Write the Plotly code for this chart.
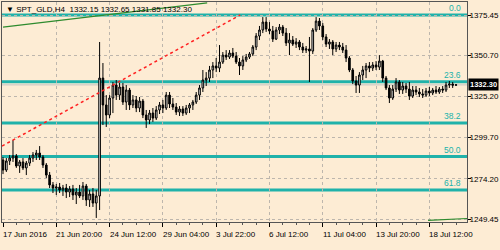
import plotly.graph_objects as go

# ---- data (H4 bars, SPT_GLD) ----
bar_index = list(range(137))
opens = [1285.9,1279.7,1285.3,1287.1,1288.4,1282.2,1284.7,1281.0,1284.0,1287.1,
         1289.0,1290.2,1287.7,1282.8,1276.6,1270.5,1268.6,1269.2,1267.4,1268.6,
         1266.1,1268.0,1264.3,1266.1,1263.7,1269.8,1261.2,1264.9,1259.3,1263.7,
         1336.5,1319.9,1313.7,1324.2,1332.2,1326.0,1331.0,1321.7,1329.1,1319.9,
         1323.0,1318.0,1322.3,1313.7,1310.6,1314.9,1311.8,1316.8,1319.9,1318.0,
         1326.0,1320.5,1318.6,1315.5,1317.4,1314.9,1318.0,1319.9,1321.7,1326.0,
         1330.4,1335.3,1336.5,1341.5,1344.0,1342.7,1346.4,1350.7,1349.5,1352.0,
         1350.1,1346.4,1344.0,1347.7,1349.5,1351.4,1355.7,1362.5,1366.2,1371.1,
         1366.8,1365.6,1360.6,1366.2,1368.0,1364.3,1358.2,1360.0,1357.5,1358.8,
         1355.7,1353.8,1354.5,1353.2,1366.2,1371.7,1368.7,1361.9,1357.5,1358.8,
         1354.5,1356.9,1355.7,1353.8,1348.9,1341.5,1334.7,1332.2,1338.4,1341.5,
         1344.0,1342.7,1344.6,1343.3,1347.0,1336.5,1330.4,1324.2,1329.7,1334.1,
         1329.1,1331.6,1329.7,1325.4,1329.1,1327.9,1326.7,1326.0,1328.5,1327.3,
         1329.1,1327.9,1329.7,1329.1,1332.2,1332.8,1332.15]
highs = [1287.7,1287.1,1289.0,1298.2,1289.6,1285.9,1287.1,1285.3,1289.0,1290.8,
         1292.1,1294.5,1289.0,1284.0,1278.5,1272.3,1271.1,1271.7,1270.5,1271.1,
         1269.8,1270.5,1268.6,1270.5,1272.3,1271.1,1267.4,1268.6,1267.4,1358.8,
         1345.8,1326.0,1326.0,1334.1,1335.3,1333.5,1333.5,1332.2,1330.4,1326.0,
         1325.4,1324.8,1323.6,1316.8,1316.8,1318.0,1319.2,1321.7,1323.0,1327.9,
         1327.9,1324.2,1321.1,1319.2,1319.2,1319.9,1321.1,1323.0,1327.9,1332.2,
         1341.5,1340.2,1344.0,1346.4,1348.9,1356.9,1352.6,1353.8,1353.8,1355.1,
         1352.6,1348.9,1350.1,1351.4,1352.6,1356.9,1364.3,1368.7,1374.2,1374.2,
         1371.1,1368.7,1368.0,1369.9,1369.3,1367.4,1364.3,1362.5,1361.2,1360.0,
         1358.2,1356.3,1361.9,1367.4,1374.2,1373.6,1370.5,1363.7,1360.6,1360.0,
         1358.8,1358.8,1358.2,1356.9,1350.1,1342.7,1337.8,1340.2,1344.0,1345.8,
         1346.4,1346.4,1347.0,1350.7,1347.7,1337.8,1332.2,1332.2,1336.5,1335.3,
         1334.1,1333.5,1334.1,1331.6,1331.6,1330.4,1329.7,1330.4,1331.0,1330.4,
         1331.6,1331.0,1331.6,1334.1,1334.7,1334.1,1332.65]
lows = [1277.2,1278.5,1282.8,1284.7,1281.0,1277.9,1279.7,1276.6,1282.2,1284.7,
        1285.9,1285.9,1281.0,1274.8,1268.6,1265.5,1264.3,1265.5,1263.7,1262.4,
        1263.0,1261.2,1258.7,1262.4,1261.2,1257.5,1256.9,1256.9,1250.1,1255.0,
        1307.5,1306.3,1311.8,1314.9,1323.0,1323.0,1319.9,1316.8,1316.8,1318.0,
        1315.5,1315.5,1311.8,1305.7,1308.1,1309.4,1310.6,1314.3,1314.9,1316.8,
        1318.0,1316.8,1313.7,1313.1,1313.1,1313.7,1314.9,1316.8,1320.5,1323.0,
        1327.9,1331.6,1334.1,1336.5,1340.2,1340.2,1345.2,1347.7,1348.3,1348.9,
        1345.2,1338.4,1341.5,1346.4,1348.3,1350.1,1353.8,1360.0,1364.3,1365.0,
        1363.7,1358.8,1360.0,1363.7,1362.5,1356.3,1350.7,1356.3,1355.1,1353.8,
        1352.0,1352.0,1334.1,1351.4,1365.0,1366.2,1360.0,1355.7,1354.5,1350.7,
        1352.6,1353.8,1352.0,1346.4,1340.2,1332.8,1327.3,1327.3,1335.3,1336.5,
        1340.2,1340.9,1341.5,1341.5,1334.1,1329.1,1321.1,1323.0,1327.9,1326.7,
        1326.7,1327.3,1323.0,1324.2,1326.0,1324.8,1324.2,1324.8,1325.4,1326.0,
        1326.7,1326.7,1327.3,1327.9,1330.4,1330.4,1331.85]
closes = [1279.7,1285.3,1287.1,1288.4,1282.2,1284.7,1281.0,1284.0,1287.1,1289.0,
          1290.2,1287.7,1282.8,1276.6,1270.5,1268.6,1269.2,1267.4,1268.6,1266.1,
          1268.0,1264.3,1266.1,1263.7,1269.8,1261.2,1264.9,1259.3,1263.7,1336.5,
          1319.9,1313.7,1324.2,1332.2,1326.0,1331.0,1321.7,1329.1,1319.9,1323.0,
          1318.0,1322.3,1313.7,1310.6,1314.9,1311.8,1316.8,1319.9,1318.0,1326.0,
          1320.5,1318.6,1315.5,1317.4,1314.9,1318.0,1319.9,1321.7,1326.0,1330.4,
          1335.3,1336.5,1341.5,1344.0,1342.7,1346.4,1350.7,1349.5,1352.0,1350.1,
          1346.4,1344.0,1347.7,1349.5,1351.4,1355.7,1362.5,1366.2,1371.1,1366.8,
          1365.6,1360.6,1366.2,1368.0,1364.3,1358.2,1360.0,1357.5,1358.8,1355.7,
          1353.8,1354.5,1353.2,1366.2,1371.7,1368.7,1361.9,1357.5,1358.8,1354.5,
          1356.9,1355.7,1353.8,1348.9,1341.5,1334.7,1332.2,1338.4,1341.5,1344.0,
          1342.7,1344.6,1343.3,1347.0,1336.5,1330.4,1324.2,1329.7,1334.1,1329.1,
          1331.6,1329.7,1325.4,1329.1,1327.9,1326.7,1326.0,1328.5,1327.3,1329.1,
          1327.9,1329.7,1329.1,1332.2,1332.8,1332.15,1332.30]

x_tick_bars = [0, 16, 32, 48, 64, 80, 96, 112, 128]
x_tick_labels = ["17 Jun 2016", "21 Jun 20:00", "24 Jun 12:00", "29 Jun 04:00",
                 "3 Jul 22:00", "6 Jul 12:00", "11 Jul 04:00", "13 Jul 20:00",
                 "18 Jul 12:00"]
y_tick_values = [1249.45, 1274.20, 1299.70, 1325.20, 1350.70, 1375.45]
y_tick_labels = ["1249.45", "1274.20", "1299.70", "1325.20", "1350.70", "1375.45"]

fib_labels = ["0.0", "23.6", "38.2", "50.0", "61.8"]
fib_prices = [1375.45, 1334.2, 1308.7, 1288.0, 1267.4]

last_price = 1332.30
header_text = "\u25bc SPT_GLD,H4  1332.15 1332.65 1331.85 1332.30"

trend_red_x = [-0.3, 71.2]
trend_red_y = [1294.5, 1375.45]
green_top_x = [0, 61.3]
green_top_y = [1368.0, 1382.9]
green_bot_x = [127.6, 139.6]
green_bot_y = [1248.6, 1249.8]

# ---- styling ----
BG = "#fdecd4"
TEAL = "#20b2aa"
GRID = "#bdb6ad"
FONT = "Liberation Sans, Arial, sans-serif"

fig = go.Figure()

fig.add_trace(go.Scatter(x=green_top_x, y=green_top_y, mode="lines",
                         line=dict(color="#2e8b2e", width=1.2), hoverinfo="skip"))
fig.add_trace(go.Scatter(x=green_bot_x, y=green_bot_y, mode="lines",
                         line=dict(color="#2e8b2e", width=1.2), hoverinfo="skip"))

fig.add_trace(go.Candlestick(
    x=bar_index, open=opens, high=highs, low=lows, close=closes,
    increasing=dict(line=dict(color="black", width=1), fillcolor="#eeeeee"),
    decreasing=dict(line=dict(color="black", width=1), fillcolor="black"),
    whiskerwidth=0, hoverinfo="skip"))

fig.add_trace(go.Scatter(x=trend_red_x, y=trend_red_y, mode="lines",
                         line=dict(color="#ff2020", width=1.5, dash="dot"),
                         hoverinfo="skip"))

shapes = []
shapes.append(dict(type="line", xref="paper", x0=0, x1=1, yref="y",
                   y0=last_price, y1=last_price,
                   line=dict(color="#c4c4c4", width=1), layer="between"))
for p in fib_prices:
    shapes.append(dict(type="line", xref="paper", x0=0, x1=1, yref="y",
                       y0=p, y1=p, line=dict(color=TEAL, width=3), layer="between"))

annotations = []
for lbl, p in zip(fib_labels, fib_prices):
    annotations.append(dict(text=lbl, xref="paper", x=0.991, yref="y", y=p,
                            xanchor="right", yanchor="bottom", yshift=0,
                            showarrow=False, font=dict(family=FONT, size=8.5, color=TEAL)))
for b, lbl in zip(x_tick_bars, x_tick_labels):
    annotations.append(dict(text=lbl, xref="x", x=b, yref="paper", y=0,
                            xanchor="left", yanchor="top", xshift=-2, yshift=-6,
                            showarrow=False, font=dict(family=FONT, size=8, color="black")))
annotations.append(dict(text=header_text, xref="paper", x=0.005, yref="paper", y=1,
                        xanchor="left", yanchor="top", yshift=-1, showarrow=False,
                        font=dict(family=FONT, size=8, color="black")))
annotations.append(dict(text="<b>%.2f</b>" % last_price, xref="paper", x=1, yref="y",
                        y=last_price, xanchor="left", yanchor="middle", xshift=1,
                        showarrow=False, bgcolor="black", borderpad=1,
                        font=dict(family=FONT, size=7.5, color="white")))

fig.update_layout(
    width=500, height=250,
    margin=dict(l=2, r=33, t=2, b=28, autoexpand=False),
    paper_bgcolor=BG, plot_bgcolor=BG,
    showlegend=False, hovermode=False,
    shapes=shapes, annotations=annotations,
    xaxis=dict(range=[-0.3, 139.3], rangeslider=dict(visible=False),
               automargin=False,
               tickmode="array", tickvals=x_tick_bars, showticklabels=False,
               ticks="outside", ticklen=4, tickcolor="black",
               minor=dict(tickmode="linear", tick0=0, dtick=4, ticks="outside",
                          ticklen=2, tickcolor="#555555", showgrid=False),
               showgrid=True, gridcolor=GRID, griddash="3px,3px", gridwidth=1,
               showline=True, linecolor="#555555", linewidth=1, mirror=True,
               zeroline=False, fixedrange=True),
    yaxis=dict(range=[1247.6, 1383.5], side="right", automargin=False,
               tickmode="array", tickvals=y_tick_values, ticktext=y_tick_labels,
               ticks="outside", ticklen=3, tickcolor="black",
               ticklabelstandoff=-3,
               tickfont=dict(family=FONT, size=8, color="black"),
               showgrid=True, gridcolor=GRID, griddash="3px,3px", gridwidth=1,
               showline=True, linecolor="#555555", linewidth=1, mirror=True,
               zeroline=False, fixedrange=True),
)

fig.write_html("out.html")
